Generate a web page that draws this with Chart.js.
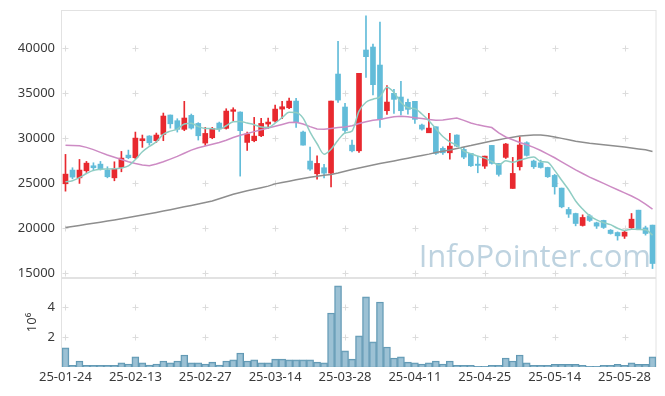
<!DOCTYPE html>
<html><head><meta charset="utf-8">
<script src="https://cdn.jsdelivr.net/npm/chart.js@4"></script>
<style>
html,body{margin:0;padding:0;background:#fff;}
#wrap{position:relative;width:665px;height:396px;overflow:hidden;}
#c1{position:absolute;left:0;top:0;}
#c2{position:absolute;left:0;top:278px;}
</style></head><body>
<div id="wrap">
<canvas id="c1" width="665" height="280"></canvas>
<canvas id="c2" width="665" height="118"></canvas>
</div>
<script>
const dates = ["25-01-24","25-01-31",
"25-02-03","25-02-04","25-02-05","25-02-06","25-02-07","25-02-10","25-02-11","25-02-12","25-02-13","25-02-14",
"25-02-17","25-02-18","25-02-19","25-02-20","25-02-21","25-02-24","25-02-25","25-02-26","25-02-27","25-02-28",
"25-03-04","25-03-05","25-03-06","25-03-07","25-03-10","25-03-11","25-03-12","25-03-13","25-03-14",
"25-03-17","25-03-18","25-03-19","25-03-20","25-03-21","25-03-24","25-03-25","25-03-26","25-03-27","25-03-28","25-03-31",
"25-04-01","25-04-02","25-04-03","25-04-04","25-04-07","25-04-08","25-04-09","25-04-10","25-04-11",
"25-04-14","25-04-15","25-04-16","25-04-17","25-04-18","25-04-21","25-04-22","25-04-23","25-04-24","25-04-25",
"25-04-28","25-04-29","25-04-30","25-05-02","25-05-07","25-05-08","25-05-09","25-05-12","25-05-13","25-05-14",
"25-05-15","25-05-16","25-05-19","25-05-20","25-05-21","25-05-22","25-05-23","25-05-26","25-05-27","25-05-28",
"25-05-29","25-05-30","25-06-02","25-06-04"];

const openP = [24960,26480,25620,26400,26960,27140,26480,25620,26770,28140,
27850,29740,30260,29740,30440,32590,31960,31000,32550,31660,
29480,30070,31700,31110,33000,32920,29550,29740,30290,31590,
31920,33250,33400,34140,30700,27480,26070,26740,26140,37140,
33480,29250,28620,39810,40140,38140,33070,35000,34590,34000,
34110,31480,30620,31290,28890,28400,30370,28770,28330,27140,
26920,29220,27220,27890,24440,26850,29520,27480,27290,26770,
25890,24480,22110,21660,20330,21400,20630,20890,19810,19550,
19140,20070,22030,20070,20370];
const highP = [28220,26740,27660,27440,27290,27440,26850,27400,28550,28700,
30700,30370,30300,30590,32810,32600,32180,34110,32700,31740,
31220,31220,31810,33290,33400,32950,30700,32330,32220,32250,
33700,34110,34480,34440,30810,29030,28070,27110,34140,40770,
33880,29800,37220,43590,40480,42920,35850,35440,36330,34370,
34110,31600,32770,31290,29070,30550,30400,29000,28330,28030,
28030,29220,27220,29440,27890,30180,29630,27590,27590,26800,
26000,24480,22330,21700,21510,21550,20700,20920,19880,19620,
19700,21660,22030,20260,20370];
const lowP = [24140,25510,25000,26220,26400,26480,25620,25290,26290,27740,
27740,29000,29250,29550,29740,31140,30700,30850,31030,29810,
29220,29960,30770,31030,31920,25810,28660,29620,30180,31110,
31810,32180,33290,31220,29250,26440,25480,25620,24620,34000,
30590,28500,28440,36770,34810,31220,32660,32770,32590,32700,
31660,30920,30620,28220,28220,27700,29070,27740,26880,26180,
26660,27140,25810,27770,24440,26480,28030,26660,26700,25660,
23810,22290,21220,20290,20260,20770,20000,20000,19370,18700,
18890,20000,19890,19260,15550];
const closeP = [26030,25700,26480,27250,26740,26620,25740,26590,27810,27850,
30030,29960,29510,30370,32480,31620,31000,32260,31140,30290,
30550,31110,31070,33030,33180,30850,30480,30250,31660,31810,
33250,33510,34140,31810,29250,26590,27220,26140,34140,34250,
30880,28620,37220,39070,35960,32140,34030,34330,33070,33220,
32110,31030,31140,28330,28400,29140,29140,27920,26960,27000,
28030,27220,26000,29370,26110,29260,28110,26850,26770,25740,
24630,22400,21590,20550,21220,20890,20260,20110,19440,19180,
19590,21030,19960,19440,16110];
const ma5 = [25180,25300,25650,26100,26450,26580,26600,26620,26710,26950,
27650,28520,29100,29620,30460,30800,31030,31600,31690,31300,
31100,31080,31000,31400,31850,31880,31700,31520,31250,31200,
31700,32300,32900,32880,32250,30700,29400,28250,28800,29800,
30600,30810,33030,34010,34350,34600,35680,35100,34000,33400,
33300,32700,31950,31080,30200,29610,29230,28590,28310,28030,
27810,27430,27040,27520,27350,27590,27800,27940,27440,27360,
26450,25350,24300,23050,22150,21400,20950,20650,20420,20020,
19780,19920,19880,19860,19250];
const ma20 = [29250,29220,29180,29000,28750,28450,28150,27900,27650,27400,
27200,27050,26950,27150,27400,27700,28000,28350,28700,28950,
29150,29350,29550,29800,30100,30350,30550,30750,30950,31150,
31350,31550,31750,31800,31600,31300,31050,31000,31100,31200,
31250,31400,31650,31850,32000,32100,32250,32400,32450,32400,
32300,32200,32100,32000,32050,32150,32250,32000,31700,31500,
31350,31200,30600,30150,29850,29550,29300,29000,28650,28250,
27850,27400,26950,26500,26100,25700,25350,25000,24650,24300,
23950,23600,23200,22700,22150];
const ma60 = [20100,20220,20340,20460,20580,20700,20820,20950,21080,21210,
21350,21490,21630,21780,21930,22080,22240,22400,22560,22720,
22880,23050,23300,23550,23800,24000,24180,24360,24530,24700,
24950,25100,25250,25400,25550,25680,25800,25900,26000,26150,
26350,26550,26720,26880,27040,27200,27350,27500,27650,27800,
27950,28100,28250,28420,28580,28720,28880,29040,29200,29380,
29550,29700,29850,30000,30120,30250,30330,30380,30370,30300,
30150,30000,29850,29680,29570,29460,29380,29290,29210,29130,
29030,28930,28830,28730,28550];
// volume in millions of shares
const volume = [1.27,0.11,0.40,0.11,0.11,0.11,0.11,0.11,0.27,0.20,
0.67,0.27,0.13,0.20,0.40,0.27,0.40,0.80,0.27,0.27,
0.20,0.33,0.13,0.40,0.47,0.93,0.40,0.47,0.27,0.27,
0.53,0.53,0.47,0.47,0.47,0.47,0.33,0.27,3.60,5.40,
1.07,0.53,2.07,4.67,1.67,4.33,1.33,0.60,0.67,0.33,
0.27,0.20,0.27,0.40,0.20,0.40,0.11,0.11,0.11,0.04,
0.04,0.11,0.11,0.60,0.40,0.80,0.27,0.11,0.11,0.11,
0.18,0.18,0.18,0.18,0.11,0.04,0.04,0.11,0.11,0.18,
0.11,0.27,0.18,0.18,0.67];
const priceTicks = [15000,20000,25000,30000,35000,40000];
const volumeTicks = [2,4];
const xTickEvery = 10;

const UP = '#e8292f', DOWN = '#62bcd9';
const FONT = {family: '"Noto Sans", "Open Sans", sans-serif', size: 13};
const TXT = '#3a3a3a';
const FRAME = '#e2e2e2';

const bodies = openP.map((o, i) => [o, closeP[i]]);
const wicks = lowP.map((l, i) => [l, highP[i]]);
const candleColor = ctx => (closeP[ctx.dataIndex] >= openP[ctx.dataIndex] ? UP : DOWN);
const noPad = s => { s.paddingTop = 0; s.paddingBottom = 0; s.paddingLeft = 0; s.paddingRight = 0; };

function crossPlugin(yVals) {
  return {
    id: 'crosses',
    beforeDatasetsDraw(chart) {
      const {ctx, chartArea: a, scales: {x, y}} = chart;
      ctx.save();
      ctx.strokeStyle = '#dcdcdc';
      ctx.lineWidth = 1;
      ctx.beginPath();
      for (let i = 0; i < dates.length; i += xTickEvery) {
        const px = Math.round(x.getPixelForValue(i)) + 0.5;
        for (const v of yVals) {
          const py = Math.round(y.getPixelForValue(v)) + 0.5;
          ctx.moveTo(px - 3, py); ctx.lineTo(px + 3, py);
          ctx.moveTo(px, py - 3); ctx.lineTo(px, py + 3);
        }
      }
      ctx.stroke();
      ctx.strokeStyle = FRAME;
      ctx.strokeRect(Math.round(a.left) - 0.5, Math.round(a.top) + 0.5, Math.round(a.right - a.left) + 0.5, Math.round(a.bottom - a.top) - 1);
      ctx.restore();
    }
  };
}
const watermark = {
  id: 'watermark',
  beforeDatasetsDraw(chart) {
    const {ctx} = chart;
    ctx.save();
    ctx.font = '31px "Open Sans", "Noto Sans", sans-serif';
    ctx.fillStyle = 'rgb(190,211,224)';
    ctx.textAlign = 'right';
    ctx.textBaseline = 'alphabetic';
    ctx.fillText('InfoPointer.com', 651, 267);
    ctx.restore();
  }
};

new Chart(document.getElementById('c1'), {
  type: 'bar',
  data: {
    labels: dates,
    datasets: [
      {type: 'line', data: ma5, borderColor: '#8fcdc3', borderWidth: 1.5, pointRadius: 0, cubicInterpolationMode: 'monotone', order: 0},
      {type: 'line', data: ma20, borderColor: '#cd8bc4', borderWidth: 1.5, pointRadius: 0, tension: 0, order: 0},
      {type: 'line', data: ma60, borderColor: '#8e8e8e', borderWidth: 1.5, pointRadius: 0, tension: 0, order: 0},
      {type: 'bar', data: bodies, backgroundColor: candleColor, barThickness: 5, grouped: false, minBarLength: 1, order: 1},
      {type: 'bar', data: wicks, backgroundColor: candleColor, barThickness: 1, grouped: false, order: 2}
    ]
  },
  options: {
    responsive: false, animation: false, devicePixelRatio: 1,
    layout: {padding: {top: 10, right: 9, bottom: 2, left: 0}},
    plugins: {legend: {display: false}, tooltip: {enabled: false}},
    scales: {
      x: {type: 'category', offset: true, display: false, grid: {display: false, drawTicks: false}, afterFit: noPad},
      y: {
        min: 14500, max: 44250,
        afterBuildTicks: s => { s.ticks = priceTicks.map(v => ({value: v})); },
        afterFit: s => { s.width = 62; noPad(s); },
        grid: {display: false, drawTicks: false}, border: {display: false},
        ticks: {font: FONT, color: TXT, padding: 7, callback: v => String(v)}
      }
    }
  },
  plugins: [crossPlugin(priceTicks), watermark]
});

new Chart(document.getElementById('c2'), {
  type: 'bar',
  data: {
    labels: dates,
    datasets: [{data: volume, backgroundColor: 'rgba(128,176,200,0.78)', borderColor: '#5f97b2', borderWidth: 1, barPercentage: 1, categoryPercentage: 1}]
  },
  options: {
    responsive: false, animation: false, devicePixelRatio: 1,
    layout: {padding: {top: 0, right: 9, bottom: 0, left: 0}},
    plugins: {legend: {display: false}, tooltip: {enabled: false}},
    scales: {
      x: {
        type: 'category', offset: true,
        grid: {display: false, drawTicks: false}, border: {display: false},
        afterFit: s => { s.height = 29; noPad(s); },
        ticks: {font: FONT, color: TXT, padding: 2, autoSkip: false, maxRotation: 0,
          callback: (v, i) => (i % xTickEvery === 0 ? dates[i] : '')}
      },
      y: {
        min: 0, max: 5.93,
        afterBuildTicks: s => { s.ticks = volumeTicks.map(v => ({value: v})); },
        afterFit: s => { s.width = 62; noPad(s); },
        grid: {display: false, drawTicks: false}, border: {display: false},
        title: {display: true, text: '10\u2076', font: FONT, color: TXT, padding: {top: 24, bottom: 0}},
        ticks: {font: FONT, color: TXT, padding: 7, callback: v => String(v)}
      }
    }
  },
  plugins: [crossPlugin(volumeTicks)]
});
</script>
</body></html>
